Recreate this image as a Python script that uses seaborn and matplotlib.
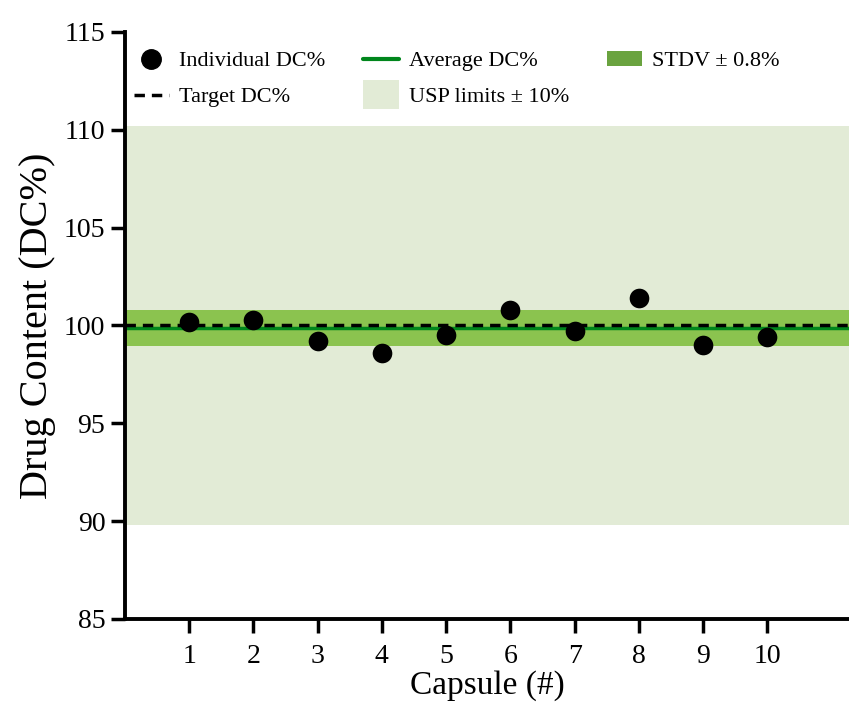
import numpy as np
import pandas as pd
import matplotlib
matplotlib.use("Agg")
import matplotlib.pyplot as plt
import seaborn as sns
from matplotlib.patches import Patch, Rectangle
from matplotlib.lines import Line2D
from matplotlib.legend_handler import HandlerPatch

capsules = [1, 2, 3, 4, 5, 6, 7, 8, 9, 10]
dc_values = [100.2, 100.3, 99.2, 98.6, 99.5, 100.8, 99.7, 101.4, 99.0, 99.4]
avg_dc = 99.85
stdv_band = 0.92
target_dc = 100.0
usp_low, usp_high = 89.8, 110.2

df = pd.DataFrame({"capsule": capsules, "dc": dc_values})

sns.set_style("ticks")
plt.rcParams["font.family"] = ["Liberation Serif", "DejaVu Serif"]
plt.rcParams["text.color"] = "black"
plt.rcParams["axes.labelcolor"] = "black"
plt.rcParams["xtick.color"] = "black"
plt.rcParams["ytick.color"] = "black"

fig = plt.figure(figsize=(8.49, 7.09), dpi=100)
ax = fig.add_axes([0.147, 0.127, 0.853, 0.828])

# bands
ax.axhspan(usp_low, usp_high, color="#e2ebd6", lw=0, zorder=0)
ax.axhspan(avg_dc - stdv_band, avg_dc + stdv_band, color="#8bc34f", lw=0, zorder=1)
ax.axhline(avg_dc, color="#00861c", lw=2.5, zorder=2)
ax.axhline(target_dc, color="black", lw=2.5, ls=(0, (3, 2)), zorder=3)

sns.scatterplot(data=df, x="capsule", y="dc", ax=ax, color="black", s=200,
                edgecolor="black", linewidth=0, zorder=4)

ax.set_xlim(0, 11.27)
ax.set_ylim(85, 115)
ax.set_yticks([85, 90, 95, 100, 105, 110, 115])
ax.set_xticks(capsules)
ax.tick_params(axis="both", labelsize=20, width=2.5, length=10, pad=4)
ax.tick_params(axis="x", pad=8)
ax.set_xlabel("Capsule (#)", fontsize=24)
ax.xaxis.set_label_coords(0.5, -0.088)
ax.set_ylabel("Drug Content (DC%)", fontsize=29, labelpad=6)

sns.despine(ax=ax, top=True, right=True)
for s in ["left", "bottom"]:
    ax.spines[s].set_linewidth(2.8)
    ax.spines[s].set_color("black")


def tall_patch(legend, orig_handle, xdescent, ydescent, width, height, fontsize):
    # bigger square swatch, like the USP patch in the original
    return Rectangle((-xdescent, -ydescent - height * 0.45), width, height * 1.9)


usp_patch = Patch(facecolor="#e2ebd6", edgecolor="none")
handles = [
    Line2D([], [], marker="o", color="black", ls="none", markersize=14),
    Line2D([], [], color="black", lw=2.5, ls=(0, (3, 2))),
    Line2D([], [], color="#00861c", lw=3),
    usp_patch,
    Patch(facecolor="#6aa33f", edgecolor="none"),
]
labels = ["Individual DC%", "Target DC%", "Average DC%", "USP limits ± 10%", "STDV ± 0.8%"]
ax.legend(handles, labels, ncol=3, loc="upper left", bbox_to_anchor=(0.0, 0.983),
          frameon=False, fontsize=16, handlelength=1.6, columnspacing=1.7,
          handletextpad=0.45, labelspacing=0.7, borderaxespad=0, borderpad=0.4,
          handler_map={usp_patch: HandlerPatch(patch_func=tall_patch)})

fig.savefig("out.png", dpi=100)
